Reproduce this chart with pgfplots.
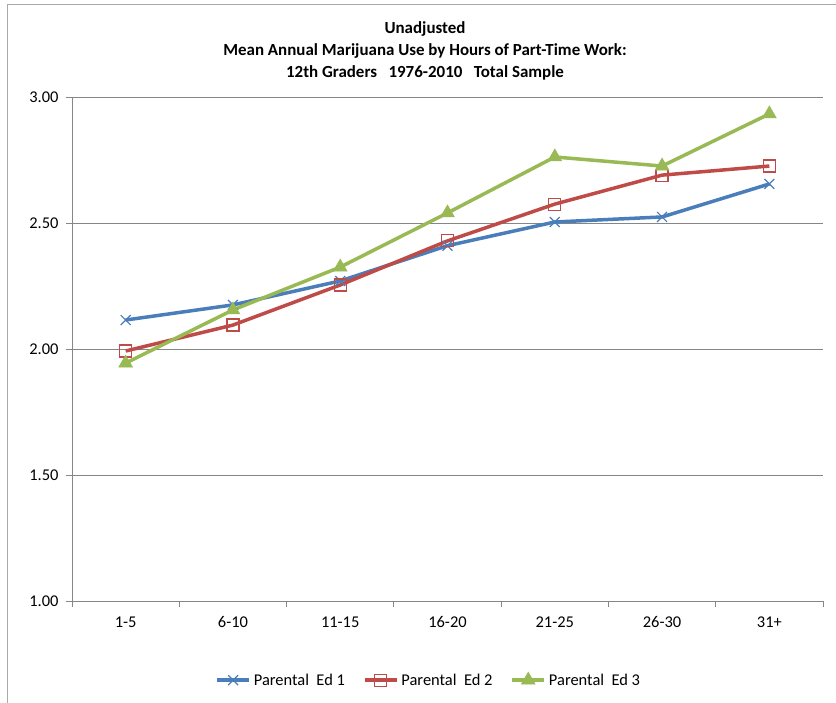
\documentclass[border=0pt]{standalone}
\usepackage{pgfplots}
\pgfplotsset{compat=1.18}
\usepackage{fontspec}
\setmainfont{Carlito}
\definecolor{s1}{HTML}{4A7EBB}
\definecolor{s2}{HTML}{BE4B48}
\definecolor{s3}{HTML}{98B954}
\definecolor{gridc}{HTML}{868686}
\begin{document}
\begin{tikzpicture}[x=1bp,y=1bp]
\useasboundingbox (0,0) rectangle (836,-703);
\draw[color=gridc!70, line width=1.2bp] (7.5,-710) -- (7.5,-4.5) -- (840,-4.5);
\node[font=\fontsize{17}{22}\selectfont\bfseries, align=center] at (425,-51) {Unadjusted\\Mean Annual Marijuana Use by Hours of Part-Time Work:\\12th Graders \ \ 1976-2010 \ \ Total Sample};
\begin{axis}[
  at={(72bp,-601bp)}, anchor=south west,
  scale only axis, width=751bp, height=504bp,
  xmin=-0.5, xmax=6.5, ymin=1, ymax=3,
  axis lines*=left,
  axis line style={gridc, line width=0.8bp},
  xtick={0,...,6},
  xticklabels={1-5,6-10,11-15,16-20,21-25,26-30,31+},
  minor xtick={-0.5,0.5,...,6.5},
  major x tick style={draw=none},
  minor x tick style={gridc, line width=0.8bp},
  minor tick length=6bp,
  ytick={1,1.5,...,3},
  y tick style={gridc, line width=0.8bp},
  major tick length=6bp,
  tick align=outside,
  ymajorgrids, major grid style={gridc, line width=0.8bp},
  y tick label style={/pgf/number format/fixed, /pgf/number format/fixed zerofill, /pgf/number format/precision=2},
  /pgf/number format/assume math mode=true,
  tick label style={font=\fontsize{16.5}{20}\selectfont},
  xticklabel style={yshift=-6bp},
  yticklabel style={xshift=-4bp},
  legend style={at={(0.475,-0.157)}, anchor=center, draw=none, font=\fontsize{16.5}{20}\selectfont, legend columns=3, /tikz/every even column/.append style={column sep=16bp}, /tikz/every odd column/.append style={column sep=1bp}},
  legend image code/.code={\draw[mark repeat=2,mark phase=2,#1] plot coordinates {(0bp,0bp)(16bp,0bp)(32bp,0bp)};},
  legend cell align=left,
]
\addplot[s1, line width=3.5bp, mark=x, mark size=7bp, mark options={line width=1.2bp}] coordinates {(0,2.115)(1,2.175)(2,2.27)(3,2.41)(4,2.504)(5,2.524)(6,2.655)};
\addlegendentry{Parental\ \ Ed 1}
\addplot[s2, line width=3.5bp, mark=square, mark size=6bp, mark options={line width=1.2bp}] coordinates {(0,1.992)(1,2.095)(2,2.254)(3,2.429)(4,2.575)(5,2.69)(6,2.726)};
\addlegendentry{Parental\ \ Ed 2}
\addplot[s3, line width=3.5bp, mark=triangle*, mark size=8bp, mark options={line width=0.5bp}] coordinates {(0,1.944)(1,2.155)(2,2.325)(3,2.54)(4,2.762)(5,2.726)(6,2.933)};
\addlegendentry{Parental\ \ Ed 3}
\end{axis}
\end{tikzpicture}
\end{document}
